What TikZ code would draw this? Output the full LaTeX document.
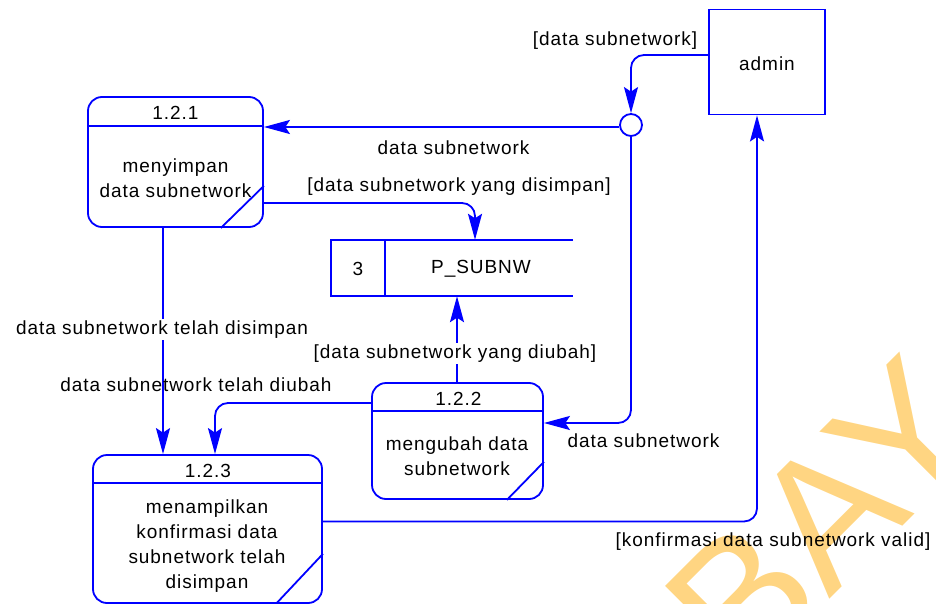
\documentclass[tikz,border=0pt]{standalone}
\usepackage{fontspec}
\setmainfont[LetterSpace=5]{Liberation Sans}
\newfontfamily\wmfont{Liberation Sans}
\usetikzlibrary{arrows.meta,calc}
\definecolor{wmorange}{RGB}{255,213,130}
\definecolor{dfdblue}{RGB}{0,0,255}
\tikzset{
  proc/.style={draw=dfdblue, line width=1.8pt, rounded corners=14pt, inner sep=0pt},
  ent/.style={draw=dfdblue, line width=1.8pt, inner sep=0pt},
  boxline/.style={draw=dfdblue, line width=1.8pt},
  flow/.style={draw=dfdblue, line width=1.8pt, rounded corners=13pt, -{Stealth[length=26pt,width=14pt,inset=4.5pt]}},
  lbl/.style={font=\fontsize{19}{25}\selectfont, inner sep=1pt, anchor=base},
  lblw/.style={lbl, fill=white, inner sep=2pt},
  ctr/.style={font=\fontsize{19}{25}\selectfont, inner sep=0pt, anchor=center},
  body/.style={font=\fontsize{19}{25}\selectfont, align=center, inner sep=0pt},
}
\begin{document}
\begin{tikzpicture}[x=1pt,y=-1pt]
\useasboundingbox (0,0) rectangle (936,604);
\begin{scope}
\clip (0,0) rectangle (936,604);
\node[anchor=base west, rotate=45, inner sep=0pt, text=wmorange, font=\wmfont\fontsize{182}{182}\selectfont] (wm) at (743.5,685.5) {BAY};
\end{scope}

% processes
\node[proc, minimum width=175pt, minimum height=130pt] (p121) at (175.5,162) {};
\node[proc, minimum width=171pt, minimum height=116pt] (p122) at (457.5,441) {};
\node[proc, minimum width=229pt, minimum height=148pt] (p123) at (207.5,529) {};
\draw[boxline] ([yshift=-30]p121.north west) -- ([yshift=-30]p121.north east);
\draw[boxline] ([yshift=-29]p122.north west) -- ([yshift=-29]p122.north east);
\draw[boxline] ([yshift=-29]p123.north west) -- ([yshift=-29]p123.north east);
\draw[boxline] ([yshift=42]p121.south east) -- ([xshift=-43]p121.south east);
\draw[boxline] ([yshift=38]p122.south east) -- ([xshift=-37]p122.south east);
\draw[boxline] ([yshift=50]p123.south east) -- ([xshift=-47]p123.south east);
\node[ctr] (t121) at (175.5,113) {1.2.1};
\node[ctr] (t122) at (458.5,399) {1.2.2};
\node[ctr] (t123) at (208,471) {1.2.3};
\node[body] (b121) at (175.5,178) {menyimpan\\data subnetwork};
\node[body] (b122) at (457,456) {mengubah data\\subnetwork};
\node[body] (b123) at (207,546.5) {menampilkan\\konfirmasi data\\subnetwork telah\\disimpan};

% external entity
\node[ent, minimum width=116pt, minimum height=105pt] (admin) at (767,62) {};
\node[ctr] (tadmin) at (767,63.5) {admin};

% junction
\node[circle, draw=dfdblue, line width=1.8pt, minimum size=22pt, inner sep=0pt] (jn) at (631,125) {};

% data store
\node[minimum width=242pt, minimum height=56pt, inner sep=0pt] (store) at (452,268) {};
\draw[boxline] (store.north east) -- (store.north west) -- (store.south west) -- (store.south east);
\draw[boxline] ([xshift=54]store.north west) -- ([xshift=54]store.south west);
\node[ctr] (s3) at (358,269) {3};
\node[ctr] (sname) at (481,269) {P\_SUBNW};

% flows
\draw[flow] ([yshift=7]admin.west) -| (jn.north);
\draw[flow] ([yshift=-2]jn.west) -- ([yshift=-2]jn.west -| p121.east);
\draw[flow] (jn.south) |- ([yshift=18]p122.east);
\draw[flow] ([yshift=-41]p121.east) -| ([xshift=23]store.north);
\draw[flow] ([xshift=-0.5]p122.north) -- ([xshift=-0.5]p122.north |- store.south);
\draw[flow] ([yshift=38]p122.west) -| ([xshift=7.5]p123.north);
\draw[flow] ([xshift=-12.5]p121.south) -- ([xshift=-12.5]p121.south |- p123.north);
\draw[flow] ([yshift=7.5]p123.east) -| ([xshift=-10]admin.south);

% labels
\node[lbl] (l1) at (615,45.5) {[data subnetwork]};
\node[lbl] (l2) at (453.5,155) {data subnetwork};
\node[lbl] (l3) at (459,191.5) {[data subnetwork yang disimpan]};
\node[lblw] (l4) at (455,358.5) {[data subnetwork yang diubah]};
\node[lblw] (l5) at (162,334.5) {data subnetwork telah disimpan};
\node[lbl] (l6) at (196,391.5) {data subnetwork telah diubah};
\node[lbl] (l7) at (643.5,447.5) {data subnetwork};
\node[lbl] (l8) at (773,546.5) {[konfirmasi data subnetwork valid]};
\end{tikzpicture}
\end{document}
